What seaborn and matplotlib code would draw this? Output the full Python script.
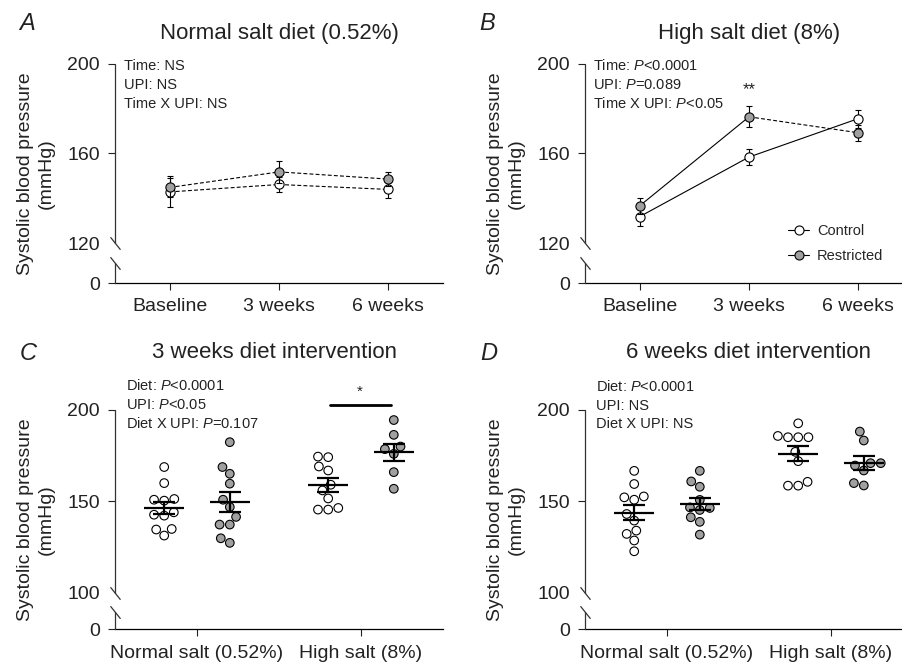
import numpy as np
import pandas as pd
import matplotlib
matplotlib.use("Agg")
import matplotlib.pyplot as plt
import seaborn as sns
from matplotlib.lines import Line2D

# ---------------- data ----------------
timepoints = ["Baseline", "3 weeks", "6 weeks"]
groups = ["Control", "Restricted"]

normal_ctrl_mean = [142.9, 146.2, 144.0]
normal_ctrl_sem = [6.9, 3.3, 4.0]
normal_restr_mean = [144.9, 151.8, 148.6]
normal_restr_sem = [4.3, 5.0, 3.1]

high_ctrl_mean = [131.9, 158.4, 175.5]
high_ctrl_sem = [4.1, 3.7, 4.0]
high_restr_mean = [136.7, 176.3, 169.2]
high_restr_sem = [3.7, 4.6, 3.6]

diets = ["Normal salt (0.52%)", "High salt (8%)"]

wk3_normal_ctrl = [168.8, 160.0, 151.3, 150.4, 150.9, 142.7, 142.2, 144.0, 134.9, 131.3, 134.6]
wk3_normal_restr = [182.4, 168.8, 165.1, 159.7, 150.9, 146.9, 141.5, 137.3, 137.3, 127.3, 129.8]
wk3_high_ctrl = [174.5, 174.2, 166.9, 169.1, 159.1, 156.0, 151.6, 146.4, 145.5, 145.5]
wk3_high_restr = [194.5, 186.4, 180.0, 178.6, 176.0, 166.0, 156.9]

wk6_normal_ctrl = [166.7, 159.5, 152.2, 150.9, 152.7, 143.1, 139.5, 134.0, 132.2, 128.6, 122.7]
wk6_normal_restr = [166.7, 160.9, 158.0, 150.8, 146.4, 145.3, 146.7, 141.3, 138.8, 131.8]
wk6_high_ctrl = [192.7, 185.1, 185.1, 185.1, 185.8, 177.1, 172.0, 160.7, 158.6, 158.6]
wk6_high_restr = [188.2, 183.3, 170.9, 170.9, 169.6, 166.9, 158.7, 160.0]

# ---------------- style ----------------
sns.set_theme(style="ticks")
plt.rcParams["font.family"] = ["Liberation Sans", "DejaVu Sans"]
plt.rcParams["mathtext.fontset"] = "custom"
plt.rcParams["mathtext.rm"] = "Liberation Sans"
plt.rcParams["mathtext.it"] = "Liberation Sans:italic"
plt.rcParams["axes.linewidth"] = 0.8

W, H = 902, 663
fig = plt.figure(figsize=(W / 100, H / 100), dpi=100)
fig.patch.set_facecolor("white")

CTRL_C = "white"
RESTR_C = "#a0a0a0"


def px_axes(left, top, right, bottom):
    return fig.add_axes([left / W, 1 - bottom / H, (right - left) / W, (bottom - top) / H])


def break_scale(b, g):
    def fwd(y):
        y = np.asarray(y, dtype=float)
        return np.where(y >= b, y, b - (b - y) * g / b)

    def inv(t):
        t = np.asarray(t, dtype=float)
        return np.where(t >= b, t, b - (b - t) * b / g)

    return fwd, inv


def style_axis(ax, b, g, ticks, low_top):
    ax.set_yscale("function", functions=break_scale(b, g))
    ax.set_ylim(0, 200)
    ax.set_yticks(ticks)
    ax.set_yticklabels([str(t) for t in ticks])
    ax.minorticks_off()
    for s in ["top", "right", "left"]:
        ax.spines[s].set_visible(False)
    ax.spines["bottom"].set_color("black")
    ax.spines["bottom"].set_linewidth(0.9)
    ax.tick_params(axis="both", labelsize=14, colors="#222222", length=5, width=0.8,
                   direction="out", pad=6)
    # hide tick at break level
    for tk in ax.yaxis.get_major_ticks():
        if abs(tk.get_loc() - b) < 1e-6:
            tk.tick1line.set_visible(False)
    tr = ax.get_yaxis_transform()
    ax.plot([0, 0], [b, 200], transform=tr, color="#333333", lw=0.9, clip_on=False, zorder=5)
    ax.plot([0, 0], [0, low_top], transform=tr, color="#333333", lw=0.9, clip_on=False, zorder=5)
    slash = [(-0.8, 1), (0.8, -1)]
    for yy in (b, low_top):
        ax.plot([0], [yy], transform=tr, marker=slash, markersize=9, mew=0.9,
                color="#333333", linestyle="none", clip_on=False, zorder=5)
    ax.set_ylabel("Systolic blood pressure\n(mmHg)", fontsize=14, linespacing=1.3,
                  labelpad=9, color="#222222")
    ax.set_facecolor("white")


def ftext(x, y, s, **kw):
    fig.text(x / W, 1 - y / H, s, **kw)


# ---------------- panels A & B ----------------
def line_panel(ax, cm, cs, rm, rs, restr_styles, ctrl_styles):
    x = np.arange(len(timepoints))
    # error bars
    ax.errorbar(x, cm, yerr=cs, fmt="none", ecolor="black", elinewidth=0.8,
                capsize=2.5, capthick=0.8, zorder=2)
    ax.errorbar(x, rm, yerr=rs, fmt="none", ecolor="black", elinewidth=0.8,
                capsize=2.5, capthick=0.8, zorder=4)
    for i in range(len(x) - 1):
        ax.plot(x[i:i + 2], cm[i:i + 2], color="black", lw=0.8, ls=ctrl_styles[i], zorder=2)
        ax.plot(x[i:i + 2], rm[i:i + 2], color="black", lw=0.8, ls=restr_styles[i], zorder=4)
    dfc = pd.DataFrame({"t": x, "v": cm})
    dfr = pd.DataFrame({"t": x, "v": rm})
    sns.scatterplot(data=dfc, x="t", y="v", ax=ax, s=44, color=CTRL_C, edgecolor="black",
                    linewidth=0.8, zorder=3, legend=False)
    sns.scatterplot(data=dfr, x="t", y="v", ax=ax, s=44, color=RESTR_C, edgecolor="black",
                    linewidth=0.8, zorder=5, legend=False)
    ax.set_xlim(-0.5, 2.5)
    ax.set_xticks(x)
    ax.set_xticklabels(timepoints)
    ax.set_xlabel("")


dash = (0, (3.5, 2))
axA = px_axes(115, 63.5, 443, 283)
style_axis(axA, 120, 17.6, [0, 120, 160, 200], 61)
line_panel(axA, normal_ctrl_mean, normal_ctrl_sem, normal_restr_mean, normal_restr_sem,
           [dash, dash], [dash, dash])
axA.set_ylabel("Systolic blood pressure\n(mmHg)", fontsize=14, linespacing=1.3, labelpad=9,
               color="#222222")

axB = px_axes(585, 63.5, 913, 283)
style_axis(axB, 120, 17.6, [0, 120, 160, 200], 61)
line_panel(axB, high_ctrl_mean, high_ctrl_sem, high_restr_mean, high_restr_sem,
           ["-", dash], ["-", "-"])
axB.set_ylabel("Systolic blood pressure\n(mmHg)", fontsize=14, linespacing=1.3, labelpad=9,
               color="#222222")
axB.text(1, 188.5, "**", ha="center", va="center", fontsize=12, color="#222222")

handles = [
    Line2D([], [], color="black", lw=0.8, marker="o", ms=6.5, mfc=CTRL_C, mec="black", mew=0.8),
    Line2D([], [], color="black", lw=0.8, marker="o", ms=6.5, mfc=RESTR_C, mec="black", mew=0.8),
]
axB.legend(handles, groups, loc="upper left", bbox_to_anchor=(0.62, 0.27), frameon=False,
           fontsize=10.5, handlelength=1.4, handletextpad=0.55, labelspacing=0.75,
           borderpad=0, borderaxespad=0)


# ---------------- panels C & D ----------------
def swarm_panel(ax, nc, nr, hc, hr):
    rows = []
    for d, c_vals, r_vals in [(diets[0], nc, nr), (diets[1], hc, hr)]:
        rows += [(d, groups[0], v) for v in c_vals]
        rows += [(d, groups[1], v) for v in r_vals]
    df = pd.DataFrame(rows, columns=["diet", "group", "sbp"])
    sns.swarmplot(data=df, x="diet", y="sbp", hue="group", order=diets, hue_order=groups,
                  dodge=True, palette={groups[0]: CTRL_C, groups[1]: RESTR_C}, size=6.2,
                  edgecolor="black", linewidth=0.8, legend=False, ax=ax, zorder=2)
    for di, (c_vals, r_vals) in enumerate([(nc, nr), (hc, hr)]):
        for off, vals in [(-0.2, c_vals), (0.2, r_vals)]:
            v = np.asarray(vals)
            m = v.mean()
            se = v.std(ddof=1) / np.sqrt(len(v))
            ax.hlines(m, di + off - 0.122, di + off + 0.122, color="black", lw=1.6, zorder=6)
            ax.errorbar([di + off], [m], yerr=[se], fmt="none", ecolor="black", elinewidth=1.6,
                        capsize=7.6, capthick=1.6, zorder=6)
    ax.set_xlim(-0.5, 1.5)
    ax.set_xticks([0, 1])
    ax.set_xticklabels(diets)
    ax.set_xlabel("")


axC = px_axes(115, 410, 443, 629.3)
style_axis(axC, 100, 20, [0, 100, 150, 200], 47.5)
swarm_panel(axC, wk3_normal_ctrl, wk3_normal_restr, wk3_high_ctrl, wk3_high_restr)
axC.set_ylabel("Systolic blood pressure\n(mmHg)", fontsize=14, linespacing=1.3, labelpad=9,
               color="#222222")
axC.plot([0.81, 1.18], [202.5, 202.5], color="black", lw=2, clip_on=False)
axC.text(0.99, 210, "*", ha="center", va="center", fontsize=11, color="#222222", clip_on=False)

axD = px_axes(585, 410, 913, 629.3)
style_axis(axD, 100, 20, [0, 100, 150, 200], 47.5)
swarm_panel(axD, wk6_normal_ctrl, wk6_normal_restr, wk6_high_ctrl, wk6_high_restr)
axD.set_ylabel("Systolic blood pressure\n(mmHg)", fontsize=14, linespacing=1.3, labelpad=9,
               color="#222222")

# ---------------- titles, letters, stats text ----------------
title_kw = dict(ha="center", va="center", fontsize=16, color="#222222")
ftext(279, 33, "Normal salt diet (0.52%)", **title_kw)
ftext(749, 33.5, "High salt diet (8%)", **title_kw)
ftext(274, 352, "3 weeks diet intervention", **title_kw)
ftext(749, 352, "6 weeks diet intervention", **title_kw)

letter_kw = dict(ha="center", va="center", fontsize=17, style="italic", color="#222222")
ftext(27, 23, "A", **letter_kw)
ftext(487.5, 23, "B", **letter_kw)
ftext(28.7, 353.3, "C", **letter_kw)
ftext(489, 353, "D", **letter_kw)

stat_kw = dict(ha="left", va="center", fontsize=10.5, color="#222222")
statsA = ["Time: NS", "UPI: NS", "Time X UPI: NS"]
statsB = ["Time: $\\mathit{P}$<0.0001", "UPI: $\\mathit{P}$=0.089", "Time X UPI: $\\mathit{P}$<0.05"]
statsC = ["Diet: $\\mathit{P}$<0.0001", "UPI: $\\mathit{P}$<0.05", "Diet X UPI: $\\mathit{P}$=0.107"]
statsD = ["Diet: $\\mathit{P}$<0.0001", "UPI: NS", "Diet X UPI: NS"]
for s, yy in zip(statsA, [65.7, 85, 104]):
    ftext(124, yy, s, **stat_kw)
for s, yy in zip(statsB, [65.7, 85, 104]):
    ftext(593.3, yy, s, **stat_kw)
for s, yy in zip(statsC, [385.7, 404.5, 423.3]):
    ftext(126, yy, s, **stat_kw)
for s, yy in zip(statsD, [386.7, 405.7, 424]):
    ftext(595.7, yy, s, **stat_kw)

fig.savefig("out.png", dpi=100, facecolor="white")
